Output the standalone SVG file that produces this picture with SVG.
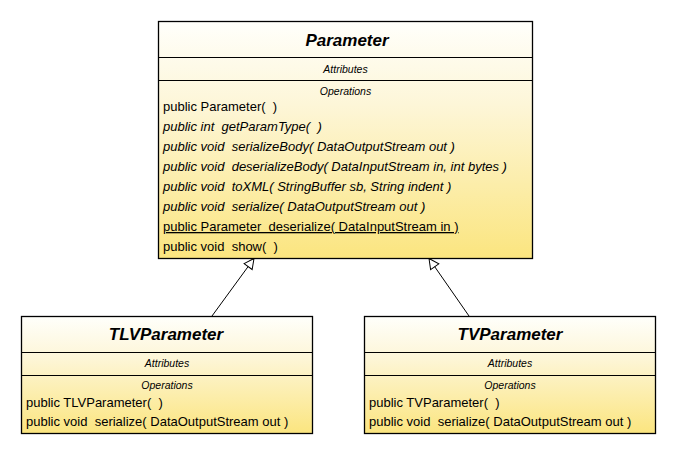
<svg xmlns="http://www.w3.org/2000/svg" width="676" height="453" viewBox="0 0 676 453">
<style>
text{font-family:"Liberation Sans",Arial,sans-serif;fill:#000;white-space:pre}
.box{stroke:#000;stroke-width:1.3}
.div{stroke:#000;stroke-width:1}
.title{font-size:17px;font-weight:bold;font-style:italic;text-anchor:middle}
.sec{font-size:10.5px;font-style:italic;text-anchor:middle}
.op{font-size:13px}
.it{font-style:italic}
.ul{text-decoration:underline}
.conn{stroke:#000;stroke-width:1;fill:none}
</style>
<defs>
<linearGradient id="g" x1="0" y1="0" x2="0" y2="1">
<stop offset="0" stop-color="#fffffb"/>
<stop offset="0.35" stop-color="#fdf6d8"/>
<stop offset="1" stop-color="#fbe57f"/>
</linearGradient>
<marker id="tri" viewBox="0 0 12 12" refX="11" refY="6" markerWidth="12" markerHeight="12" markerUnits="userSpaceOnUse" orient="auto">
<path d="M1,1 L11,6 L1,11 Z" fill="#fff" stroke="#000" stroke-width="1"/>
</marker>
</defs>
<g id="connectors">
<line class="conn" x1="212" y1="316" x2="254" y2="258.5" marker-end="url(#tri)"/>
<line class="conn" x1="469" y1="316" x2="429" y2="258.5" marker-end="url(#tri)"/>
</g>
<g id="Parameter">
<rect class="box" x="158.5" y="21.5" width="374" height="237" fill="url(#g)"/>
<line class="div" x1="158.5" y1="57.5" x2="532.5" y2="57.5"/>
<line class="div" x1="158.5" y1="80.5" x2="532.5" y2="80.5"/>
<text class="title" x="347" y="46">Parameter</text>
<text class="sec" x="345.5" y="73">Attributes</text>
<text class="sec" x="345.5" y="95">Operations</text>
<text class="op" x="163" y="111" xml:space="preserve">public Parameter(  )</text>
<text class="op it" x="163" y="131" xml:space="preserve">public int  getParamType(  )</text>
<text class="op it" x="163" y="151" xml:space="preserve">public void  serializeBody( DataOutputStream out )</text>
<text class="op it" x="163" y="171" xml:space="preserve">public void  deserializeBody( DataInputStream in, int bytes )</text>
<text class="op it" x="163" y="191" xml:space="preserve">public void  toXML( StringBuffer sb, String indent )</text>
<text class="op it" x="163" y="211" xml:space="preserve">public void  serialize( DataOutputStream out )</text>
<text class="op ul" x="163" y="231" xml:space="preserve">public Parameter  deserialize( DataInputStream in )</text>
<text class="op" x="163" y="251" xml:space="preserve">public void  show(  )</text>
</g>
<g id="TLVParameter">
<rect class="box" x="21.5" y="316.5" width="291" height="117" fill="url(#g)"/>
<line class="div" x1="21.5" y1="352.5" x2="312.5" y2="352.5"/>
<line class="div" x1="21.5" y1="375.5" x2="312.5" y2="375.5"/>
<text class="title" x="166" y="340">TLVParameter</text>
<text class="sec" x="167" y="367">Attributes</text>
<text class="sec" x="167" y="389">Operations</text>
<text class="op" x="26" y="407" xml:space="preserve">public TLVParameter(  )</text>
<text class="op" x="26" y="426" xml:space="preserve">public void  serialize( DataOutputStream out )</text>
</g>
<g id="TVParameter">
<rect class="box" x="364.5" y="316.5" width="291" height="117" fill="url(#g)"/>
<line class="div" x1="364.5" y1="352.5" x2="655.5" y2="352.5"/>
<line class="div" x1="364.5" y1="375.5" x2="655.5" y2="375.5"/>
<text class="title" x="510" y="340">TVParameter</text>
<text class="sec" x="510" y="367">Attributes</text>
<text class="sec" x="510" y="389">Operations</text>
<text class="op" x="369" y="407" xml:space="preserve">public TVParameter(  )</text>
<text class="op" x="369" y="426" xml:space="preserve">public void  serialize( DataOutputStream out )</text>
</g>
</svg>
